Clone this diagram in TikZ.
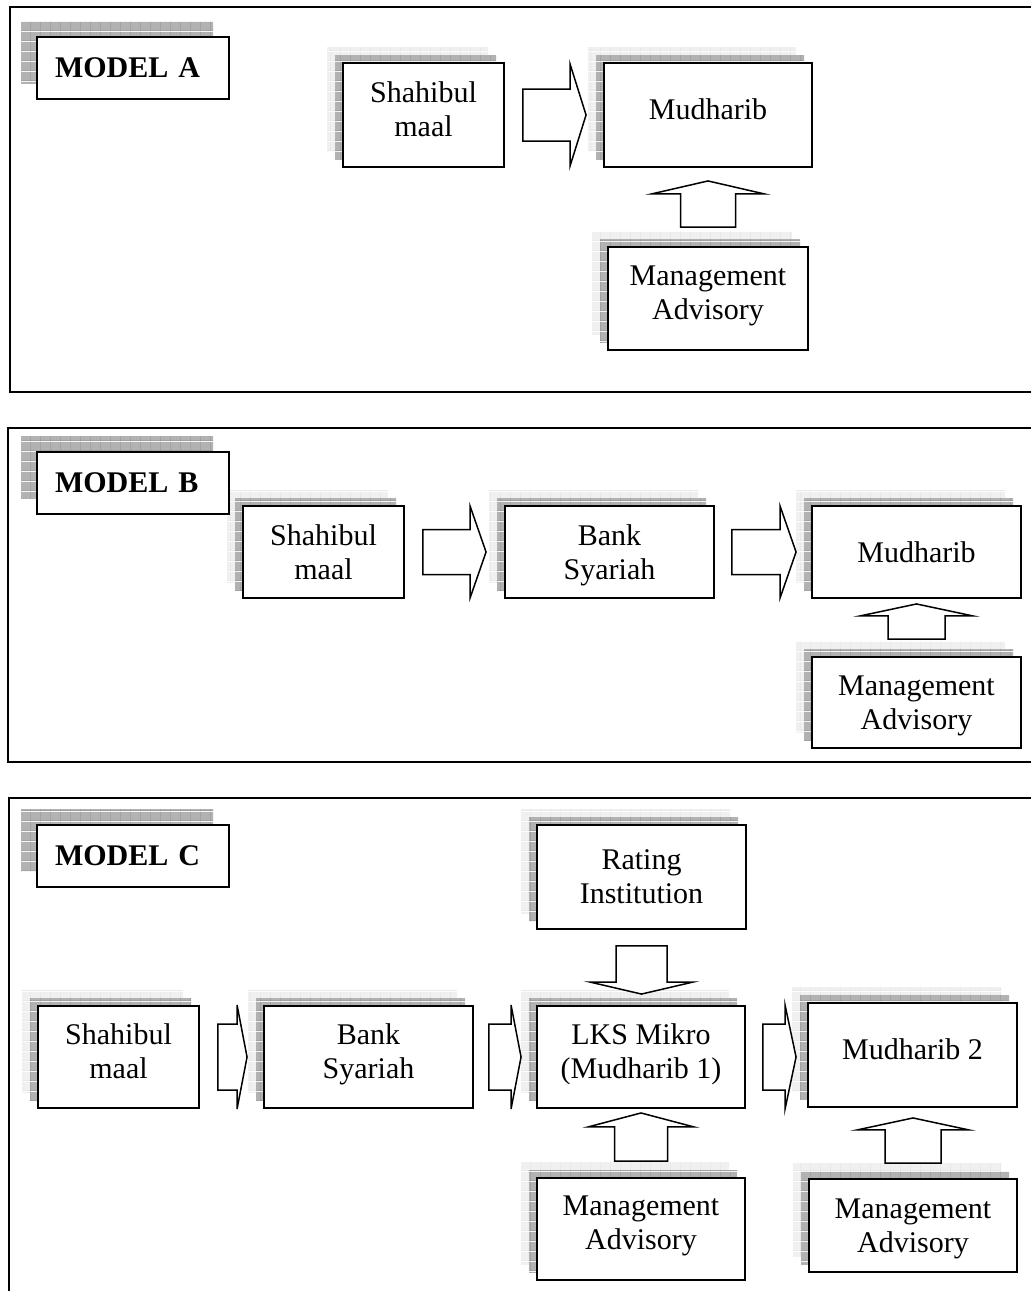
\documentclass[tikz,border=0pt]{standalone}
\usepackage{fontspec}
\setmainfont{Liberation Serif}
\usetikzlibrary{shadows,patterns,calc}

\pgfdeclarepatterninherentlycolored{palegrid}{\pgfpointorigin}{\pgfpoint{10pt}{10pt}}{\pgfpoint{10pt}{10pt}}{\pgfsetfillcolor{black!6}\pgfpathrectangle{\pgfpointorigin}{\pgfpoint{10pt}{10pt}}\pgfusepath{fill}\pgfsetstrokecolor{black!13}\pgfsetlinewidth{0.6pt}\pgfpathmoveto{\pgfpointorigin}\pgfpathlineto{\pgfpoint{10pt}{0pt}}\pgfpathmoveto{\pgfpointorigin}\pgfpathlineto{\pgfpoint{0pt}{10pt}}\pgfusepath{stroke}}
\pgfdeclarepatterninherentlycolored{darkgrid}{\pgfpointorigin}{\pgfpoint{10pt}{10pt}}{\pgfpoint{10pt}{10pt}}{\pgfsetfillcolor{black!30}\pgfpathrectangle{\pgfpointorigin}{\pgfpoint{10pt}{10pt}}\pgfusepath{fill}\pgfsetstrokecolor{black!48}\pgfsetlinewidth{0.6pt}\pgfpathmoveto{\pgfpointorigin}\pgfpathlineto{\pgfpoint{10pt}{0pt}}\pgfpathmoveto{\pgfpointorigin}\pgfpathlineto{\pgfpoint{0pt}{10pt}}\pgfusepath{stroke}}

\tikzset{
  box/.style={draw=black,line width=1.9pt,fill=white,align=center,inner sep=0pt,text depth=12pt,font=\fontsize{30}{34}\selectfont,general shadow={shadow xshift=-16pt,shadow yshift=16pt,pattern=palegrid},general shadow={shadow xshift=-8pt,shadow yshift=8pt,pattern=darkgrid}},
  lowtext/.style={text depth=0pt},
  modelbox/.style={draw=black,line width=1.9pt,fill=white,align=left,text width=156pt,inner xsep=18pt,inner ysep=0pt,minimum height=62pt,font=\bfseries\fontsize{30}{34}\selectfont,general shadow={shadow xshift=-16pt,shadow yshift=16pt,pattern=darkgrid}},
  blockarr/.style={draw=black,fill=white,line width=1.5pt,line join=miter},
  frame/.style={draw=black,line width=2.4pt}
}

\newcommand{\rarr}[7]{\path[blockarr] let \p1=(#1.east), \p2=(#2.west) in (\x1+#3pt,\y1+#5pt) -- (\x2-#4pt-#7pt,\y1+#5pt) -- (\x2-#4pt-#7pt,\y1+#6pt) -- (\x2-#4pt,\y1) -- (\x2-#4pt-#7pt,\y1-#6pt) -- (\x2-#4pt-#7pt,\y1-#5pt) -- (\x1+#3pt,\y1-#5pt) -- cycle;}
\newcommand{\uarr}[7]{\path[blockarr] let \p1=(#1.north), \p2=(#2.south) in (\x1-#5pt,\y1+#3pt) -- (\x1-#5pt,\y2-#4pt-#7pt) -- (\x1-#6pt,\y2-#4pt-#7pt) -- (\x1,\y2-#4pt) -- (\x1+#6pt,\y2-#4pt-#7pt) -- (\x1+#5pt,\y2-#4pt-#7pt) -- (\x1+#5pt,\y1+#3pt) -- cycle;}
\newcommand{\darr}[7]{\path[blockarr] let \p1=(#1.south), \p2=(#2.north) in (\x1-#5pt,\y1-#3pt) -- (\x1-#5pt,\y2+#4pt+#7pt) -- (\x1-#6pt,\y2+#4pt+#7pt) -- (\x1,\y2+#4pt) -- (\x1+#6pt,\y2+#4pt+#7pt) -- (\x1+#5pt,\y2+#4pt+#7pt) -- (\x1+#5pt,\y1-#3pt) -- cycle;}

\begin{document}
\begin{tikzpicture}[x=1pt,y=-1pt]
\useasboundingbox (0,0) rectangle (1031,1291);
\clip (0,0) rectangle (1031,1291);
\draw[frame] (10,7) rectangle (1045,392);
\draw[frame] (8,428) rectangle (1045,762);
\draw[frame] (9,798) rectangle (1045,1310);

\node[box,minimum width=161pt,minimum height=104pt] (1) at (423.5,115) {Shahibul\\maal};
\node[box,minimum width=208pt,minimum height=104pt] (2) at (708,115) {Mudharib};
\node[box,minimum width=200pt,minimum height=103pt] (3) at (708,298.5) {Management\\Advisory};
\node[modelbox] (0) at (133,68) {MODEL A};

\node[box,lowtext,minimum width=161pt,minimum height=92pt] (5) at (323.5,552) {Shahibul\\maal};
\node[box,lowtext,minimum width=209pt,minimum height=92pt] (6) at (609.5,552) {Bank\\Syariah};
\node[box,lowtext,minimum width=209pt,minimum height=92pt] (7) at (916.5,552) {Mudharib};
\node[box,lowtext,minimum width=209pt,minimum height=91pt] (8) at (916.5,702.5) {Management\\Advisory};
\node[modelbox] (4) at (133,483) {MODEL B};

\node[box,lowtext,minimum width=209pt,minimum height=104pt] (10) at (641.5,877) {Rating\\Institution};
\node[box,minimum width=161pt,minimum height=102pt] (11) at (118.5,1057) {Shahibul\\maal};
\node[box,minimum width=209pt,minimum height=102pt] (12) at (368.5,1057) {Bank\\Syariah};
\node[box,minimum width=208pt,minimum height=102pt] (13) at (641,1057) {LKS Mikro\\(Mudharib 1)};
\node[box,minimum width=209pt,minimum height=104pt] (14) at (912.5,1055) {Mudharib 2};
\node[box,minimum width=208pt,minimum height=102pt] (15) at (641,1229) {Management\\Advisory};
\node[box,lowtext,minimum width=208pt,minimum height=93pt] (16) at (913,1225.5) {Management\\Advisory};
\node[modelbox] (9) at (133,856) {MODEL C};

\rarr{1}{2}{18}{17}{26}{51}{16}
\uarr{3}{2}{19}{13}{27.5}{56.5}{13}

\rarr{5}{6}{18}{18}{22.5}{46}{16}
\rarr{6}{7}{17}{15}{22.5}{46}{16}
\uarr{8}{7}{17}{5}{28.5}{56.5}{12}

\rarr{11}{12}{18}{16}{33}{52}{10}
\rarr{12}{13}{15}{15}{33}{52}{10}
\rarr{13}{14}{17}{11}{33}{52}{11}
\darr{10}{13}{16}{11}{25.5}{51.5}{12}
\uarr{15}{13}{16}{4}{26.5}{53}{14}
\uarr{16}{14}{15}{10}{28}{56}{12}
\end{tikzpicture}
\end{document}
